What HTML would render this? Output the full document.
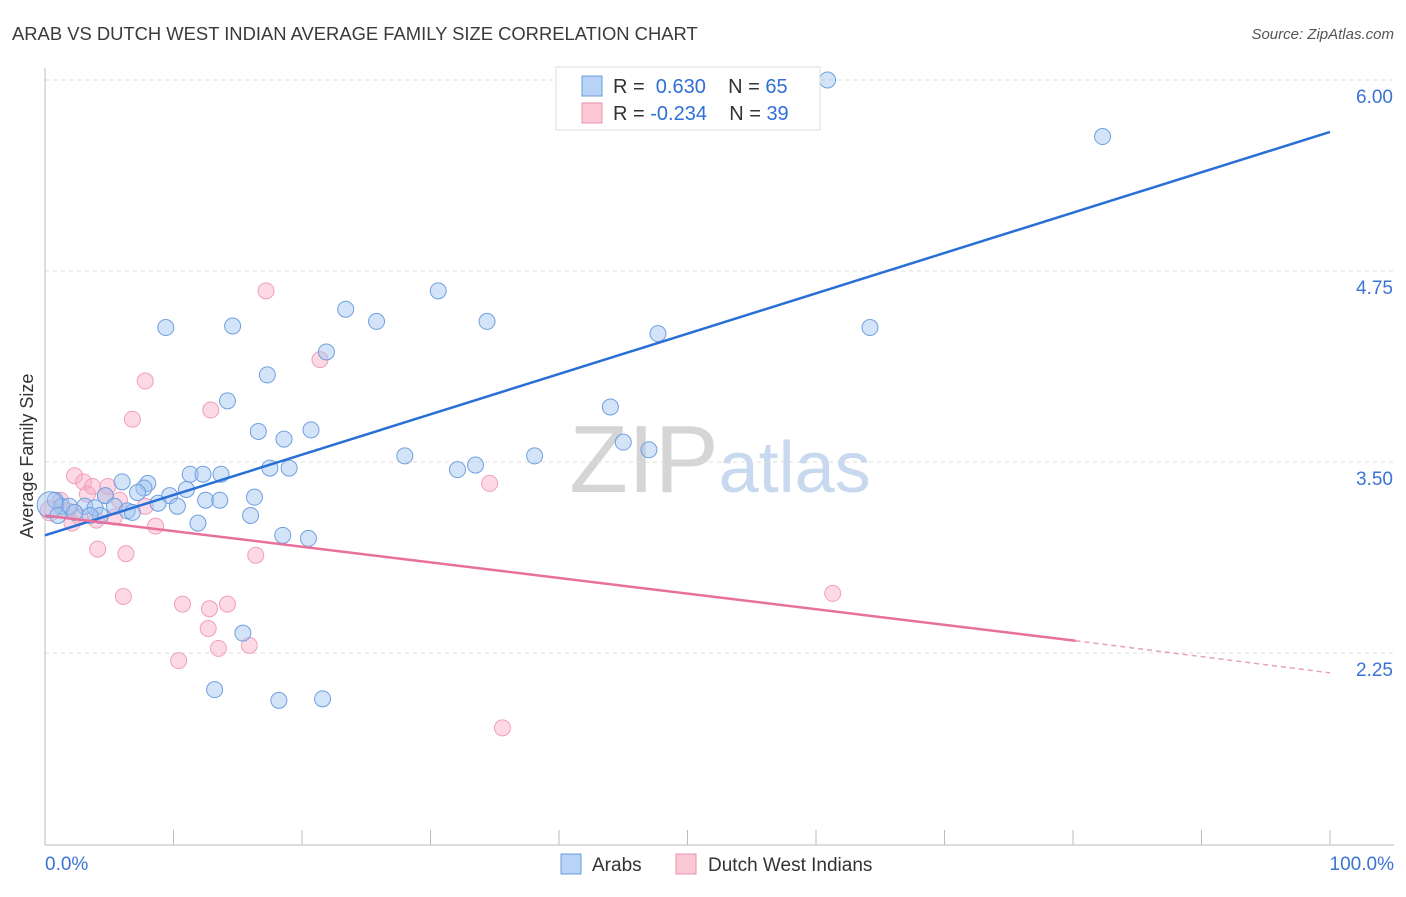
<!DOCTYPE html>
<html><head><meta charset="utf-8"><style>
body{margin:0;background:#fff;font-family:"Liberation Sans",sans-serif;}
svg text{font-family:"Liberation Sans",sans-serif;}
</style></head><body>
<svg id="chart" width="1406" height="892" viewBox="0 0 1406 892" xmlns="http://www.w3.org/2000/svg">
<text x="12" y="40" font-size="18.4" fill="#3a3a3a">ARAB VS DUTCH WEST INDIAN AVERAGE FAMILY SIZE CORRELATION CHART</text>
<text x="1394" y="39" font-size="15" fill="#555" font-style="italic" text-anchor="end">Source: ZipAtlas.com</text>
<text x="720" y="492" font-size="96" fill="#ddd" text-anchor="middle" font-family="Liberation Serif"><tspan fill="#d5d5d5">ZIP</tspan><tspan fill="#c8d8ee" font-family="Liberation Sans" font-size="72">atlas</tspan></text>
<text transform="translate(33,456) rotate(-90)" font-size="18" fill="#333" text-anchor="middle">Average Family Size</text>
<g id="grid"></g><g id="axes"></g><g id="pts"></g><g id="lines"></g>
<g>
<rect x="556" y="67" width="264" height="63" fill="#fff" stroke="#ddd"/>
<rect x="582" y="76" width="20" height="20" fill="#b8d3f5" stroke="#6a9ee0"/>
<rect x="582" y="103" width="20" height="20" fill="#fbc8d6" stroke="#ee8fab"/>
<text x="613" y="93" font-size="20" fill="#333">R = <tspan fill="#2f6fd6">&#160;0.630</tspan>&#160;&#160;&#160; N = <tspan fill="#2f6fd6">65</tspan></text>
<text x="613" y="120" font-size="20" fill="#333">R = <tspan fill="#2f6fd6">-0.234</tspan>&#160;&#160;&#160; N = <tspan fill="#2f6fd6">39</tspan></text>
</g>
<g>
<rect x="561" y="854" width="20" height="20" fill="#b8d3f5" stroke="#6a9ee0"/>
<text x="592" y="871" font-size="19" fill="#333">Arabs</text>
<rect x="676" y="854" width="20" height="20" fill="#fbc8d6" stroke="#ee8fab"/>
<text x="708" y="871" font-size="19" fill="#333">Dutch West Indians</text>
</g>
</svg>
<script>
const yTicks=[6.00,4.75,3.50,2.25];
const yTickLabels=["6.00","4.75","3.50","2.25"];
const xTickLabels=["0.0%","100.0%"];
const arabX=[60.9,82.3,9.4,14.6,23.4,25.8,30.6,34.4,47.7,64.2,21.9,17.3,14.2,44.0,16.6,20.7,18.6,45.0,47.0,28.0,38.1,33.5,32.1,11.3,12.3,13.7,17.5,19.0,6.0,8.0,7.7,7.2,11.0,9.7,4.7,16.3,8.8,12.5,13.6,10.3,0.8,1.3,1.9,3.1,3.9,4.3,5.4,6.4,16.0,11.9,18.5,20.5,15.4,13.2,18.2,21.6,0.4,2.3,1.0,3.5,6.8];
const arabY=[6.00,5.63,4.38,4.39,4.50,4.42,4.62,4.42,4.34,4.38,4.22,4.07,3.90,3.86,3.70,3.71,3.65,3.63,3.58,3.54,3.54,3.48,3.45,3.42,3.42,3.42,3.46,3.46,3.37,3.36,3.33,3.30,3.32,3.28,3.28,3.27,3.23,3.25,3.25,3.21,3.25,3.21,3.21,3.21,3.20,3.15,3.21,3.18,3.15,3.10,3.02,3.00,2.38,2.01,1.94,1.95,3.22,3.17,3.15,3.15,3.17];
const dutchX=[17.2,21.4,7.8,12.9,6.8,2.3,3.0,3.7,4.9,3.3,34.6,5.8,4.7,7.8,1.2,1.8,2.7,4.0,5.4,2.1,8.6,4.1,6.3,16.4,6.1,10.7,12.8,14.2,12.7,13.5,15.9,10.4,61.3,35.6,0.4];
const dutchY=[4.62,4.17,4.03,3.84,3.78,3.41,3.37,3.34,3.34,3.29,3.36,3.25,3.28,3.21,3.25,3.18,3.14,3.12,3.14,3.10,3.08,2.93,2.90,2.89,2.62,2.57,2.54,2.57,2.41,2.28,2.30,2.20,2.64,1.76,3.18];
const arabTrend=[3.02,5.66];
const dutchTrend=[3.15,2.33,2.12];
const NS="http://www.w3.org/2000/svg";
const X0=45,X1=1330,Y6=80,PPU=152.8;
const sx=v=>X0+(X1-X0)*v/100;
const sy=v=>Y6+(6-v)*PPU;
function mk(t,a,p){const e=document.createElementNS(NS,t);for(const k in a)e.setAttribute(k,a[k]);document.getElementById(p).appendChild(e);return e;}
yTicks.forEach((t,i)=>{
 const g=mk('line',{x1:X0,x2:1394,y1:sy(t),y2:sy(t),stroke:'#ddd','stroke-dasharray':'4,4'},'grid');
 
 
 const l=mk('text',{x:1393,y:sy(t)+23,'font-size':19,fill:'#3b73d4','text-anchor':'end'},'axes');
 l.textContent=yTickLabels[i];
 
 
});
const ya=mk('line',{x1:X0,x2:X0,y1:68,y2:845,stroke:'#bbb'},'axes');


const xa=mk('line',{x1:X0,x2:1394,y1:845,y2:845,stroke:'#bbb'},'axes');


for(let k=1;k<=10;k++){const t=mk('line',{x1:sx(k*10),x2:sx(k*10),y1:830,y2:845,stroke:'#bbb'},'axes');
 
 }
[[0,'start',45],[100,'end',1394]].forEach((d,i)=>{const t=mk('text',{x:d[2],y:870,'font-size':19,fill:'#3b73d4','text-anchor':d[1]},'axes');t.textContent=xTickLabels[i];
 
 });
dutchX.forEach((x,i)=>{const c=mk('circle',{cx:sx(x),cy:sy(dutchY[i]),r:i==34?10:8,fill:'rgba(248,170,195,0.45)',stroke:'#f0a0b8','stroke-width':1},'pts');
 
 });
arabX.forEach((x,i)=>{const c=mk('circle',{cx:sx(x),cy:sy(arabY[i]),r:i==56?13:8,fill:'rgba(160,195,240,0.45)',stroke:'#6f9fe0','stroke-width':1},'pts');
 
 });
const bl=mk('line',{x1:sx(0),y1:sy(arabTrend[0]),x2:sx(100),y2:sy(arabTrend[1]),stroke:'#2a6fd6','stroke-width':2.5},'lines');


const pl=mk('line',{x1:sx(0),y1:sy(dutchTrend[0]),x2:sx(80.2),y2:sy(dutchTrend[1]),stroke:'#e8709a','stroke-width':2.5},'lines');


const pd=mk('line',{x1:sx(80.2),y1:sy(dutchTrend[1]),x2:sx(100),y2:sy(dutchTrend[2]),stroke:'#e8a0b8','stroke-width':1.5,'stroke-dasharray':'5,4'},'lines');


</script>
</body></html>
